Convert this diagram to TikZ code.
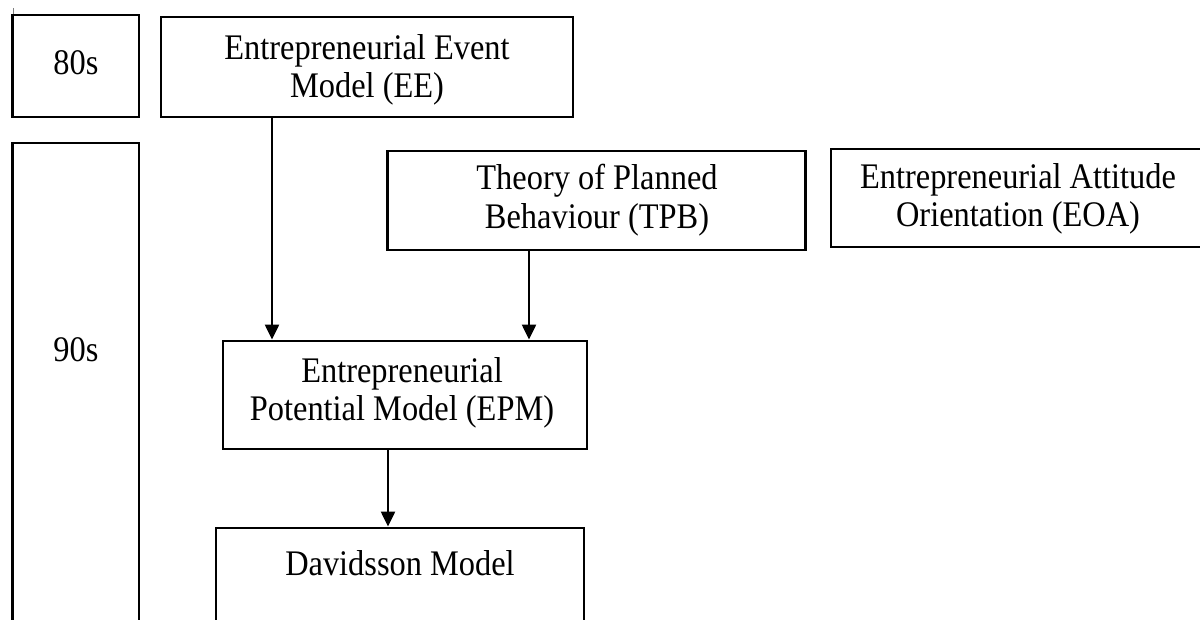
\documentclass[tikz,border=0pt]{standalone}
\usepackage{fontspec}
\setmainfont{Liberation Serif}[FakeStretch=0.9]
\usetikzlibrary{arrows.meta}
\begin{document}
\begin{tikzpicture}[x=1pt,y=-1pt,
  box/.style={draw=black, line width=2.8pt, inner sep=0pt},
  lbl/.style={font=\fontsize{36}{38.5}\selectfont, align=center, inner sep=0pt},
  flow/.style={draw=black, line width=2.2pt, -{Triangle[width=14pt,length=15pt]}}
]
\useasboundingbox (0,0) rectangle (1200,620);
\clip (0,0) rectangle (1200,620);
\fill[white] (0,0) rectangle (1200,620);

% decade column
\draw[gray, line width=1pt] (13,8) -- (13,15);
\node[box, minimum width=126.5pt, minimum height=102pt] (d80) at (75.75,66) {};
\node[box, minimum width=126.5pt, minimum height=600pt] (d90) at (75.75,443) {};
\node[lbl] (t80) at (76,63) {80s};
\node[lbl] (t90) at (76,350) {90s};

% model boxes
\node[box, minimum width=412pt, minimum height=100pt] (ee) at (367,67) {};
\node[lbl] (tee) at (367,70) {Entrepreneurial Event\\Model (EE)};

\node[box, minimum width=418pt, minimum height=99pt] (tpb) at (596.5,200.5) {};
\node[lbl] (ttpb) at (597,200) {Theory of Planned\\Behaviour (TPB)};

\node[box, minimum width=374pt, minimum height=98pt] (eoa) at (1018,198) {};
\node[lbl] (teoa) at (1018,199) {Entrepreneurial Attitude\\Orientation (EOA)};

\node[box, minimum width=364pt, minimum height=108pt] (epm) at (405,395) {};
\node[lbl] (tepm) at (402,393) {Entrepreneurial\\Potential Model (EPM)};

\node[box, minimum width=368pt, minimum height=200pt] (dav) at (400,628) {};
\node[lbl] (tdav) at (400,563) {Davidsson Model};

% influences
\draw[flow] ([xshift=-95pt]ee.south) -- ([xshift=-133pt]epm.north);
\draw[flow] ([xshift=-67.5pt]tpb.south) -- ([xshift=124pt]epm.north);
\draw[flow] ([xshift=-17pt]epm.south) -- ([xshift=-12pt]dav.north);
\end{tikzpicture}
\end{document}
